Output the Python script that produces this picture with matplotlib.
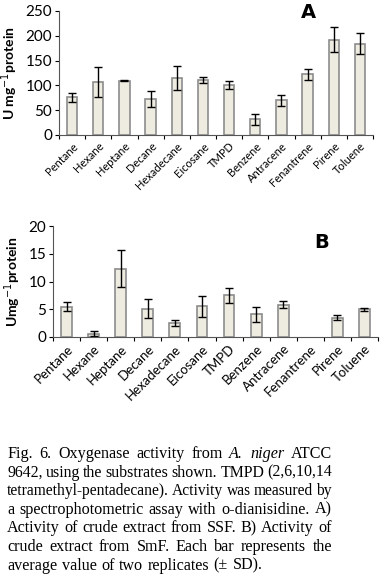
import numpy as np
import matplotlib.pyplot as plt

# datos
sustratos = ['Pentane', 'Hexane', 'Heptane', 'Decane', 'Hexadecane', 'Eicosane',
             'TMPD', 'Benzene', 'Antracene', 'Fenantrene', 'Pirene', 'Toluene']
act_ssf = [76, 107, 109, 72, 115, 111, 100, 32, 70, 122, 192, 184]
sd_ssf = [9, 31, 1, 16, 25, 6, 8, 11, 11, 12, 25, 21]
act_smf = [5.45, 0.6, 12.3, 5.1, 2.5, 5.5, 7.5, 4.1, 5.8, 0, 3.5, 5.0]
sd_smf = [0.8, 0.5, 3.3, 1.7, 0.5, 1.9, 1.3, 1.35, 0.6, 0, 0.5, 0.3]

W, H = 383, 574
fig = plt.figure(figsize=(W / 100, H / 100), dpi=100)

relleno = '#eeece1'
borde = '#8c8c8c'


def panel(rect, valores, errores, ymax, paso, etiqueta, ylabel, pos_letra, fs_x):
    ax = fig.add_axes(rect)
    valores = np.array(valores, dtype=float)
    errores = np.array(errores, dtype=float)
    x = np.arange(len(sustratos))
    hay = valores > 0  # sin barra cuando no hubo actividad
    ax.bar(x[hay], valores[hay], width=0.4, color=relleno, edgecolor=borde, linewidth=1.2,
           yerr=errores[hay], capsize=3, error_kw=dict(ecolor='black', elinewidth=1, capthick=1))
    ax.set_xlim(-0.5, len(sustratos) - 0.5)
    ax.set_ylim(0, ymax)
    ax.set_yticks(np.arange(0, ymax + 1, paso))
    ax.set_xticks(np.arange(-0.5, len(sustratos), 1), minor=False)
    ax.set_xticklabels([])
    ax.set_xticks(x, minor=True)
    ax.set_xticklabels(sustratos, minor=True, rotation=45, ha='right',
                       rotation_mode='anchor', fontsize=fs_x, family='Lato')
    ax.tick_params(axis='x', which='minor', length=0, pad=4)
    ax.tick_params(axis='x', which='major', length=3, direction='out')
    ax.tick_params(axis='y', length=3, direction='out', labelsize=11, pad=2)
    for t in ax.get_yticklabels():
        t.set_family('Lato')
    for s in ['top', 'right']:
        ax.spines[s].set_visible(False)
    ax.spines['left'].set_color('#555555')
    ax.spines['bottom'].set_color('#555555')
    ax.set_ylabel(ylabel, fontsize=10, family='Lato', fontweight='bold', labelpad=4)
    ax.text(pos_letra[0], pos_letra[1], etiqueta, transform=fig.transFigure,
            fontsize=14, fontweight='bold', family='DejaVu Sans', ha='center', va='center')
    return ax


# panel A
panel([59 / W, 1 - 135 / H, (373 - 59) / W, (135 - 11) / H], act_ssf, sd_ssf, 250, 50,
      'A', 'U mg$^{-1}$protein', (308 / W, 1 - 12 / H), 8)
# panel B
panel([53 / W, 1 - 337 / H, (378 - 53) / W, (337 - 226) / H], act_smf, sd_smf, 20, 5,
      'B', 'Umg$^{-1}$protein', (322 / W, 1 - 243 / H), 9.5)

# pie de figura, justificado
lineas = [
    [('Fig.', 0), ('6.', 0), ('Oxygenase', 0), ('activity', 0), ('from', 0), ('A.', 1), ('niger', 1), ('ATCC', 0)],
    [('9642,', 0), ('using', 0), ('the', 0), ('substrates', 0), ('shown.', 0), ('TMPD', 0), ('(2,6,10,14', 0)],
    [('tetramethyl-pentadecane).', 0), ('Activity', 0), ('was', 0), ('measured', 0), ('by', 0)],
    [('a', 0), ('spectrophotometric', 0), ('assay', 0), ('with', 0), ('o-dianisidine.', 0), ('A)', 0)],
    [('Activity', 0), ('of', 0), ('crude', 0), ('extract', 0), ('from', 0), ('SSF.', 0), ('B)', 0), ('Activity', 0), ('of', 0)],
    [('crude', 0), ('extract', 0), ('from', 0), ('SmF.', 0), ('Each', 0), ('bar', 0), ('represents', 0), ('the', 0)],
    [('average', 0), ('value', 0), ('of', 0), ('two', 0), ('replicates', 0), ('(\u00b1', 0), ('SD).', 0)],
]
x0, x1 = 7, 332
y_primera = 454
salto = 18.6
fs = 11.6

fig.canvas.draw()
renderer = fig.canvas.get_renderer()
for i, linea in enumerate(lineas):
    y = 1 - (y_primera + i * salto) / H
    tam = fs
    while True:
        textos = []
        for palabra, it in linea:
            t = fig.text(0, y, palabra, fontsize=tam, family='Liberation Serif',
                         style='italic' if it else 'normal', va='center', ha='left')
            textos.append(t)
        anchos = [t.get_window_extent(renderer).width for t in textos]
        if i < len(lineas) - 1:
            hueco = (x1 - x0 - sum(anchos)) / (len(textos) - 1)
        else:
            hueco = 4.5
        if hueco >= 3 or tam < 9:
            break
        for t in textos:
            t.remove()
        tam -= 0.2
    pos = x0
    for t, w in zip(textos, anchos):
        t.set_x(pos / W)
        pos += w + hueco

fig.savefig('out.png', dpi=100)
